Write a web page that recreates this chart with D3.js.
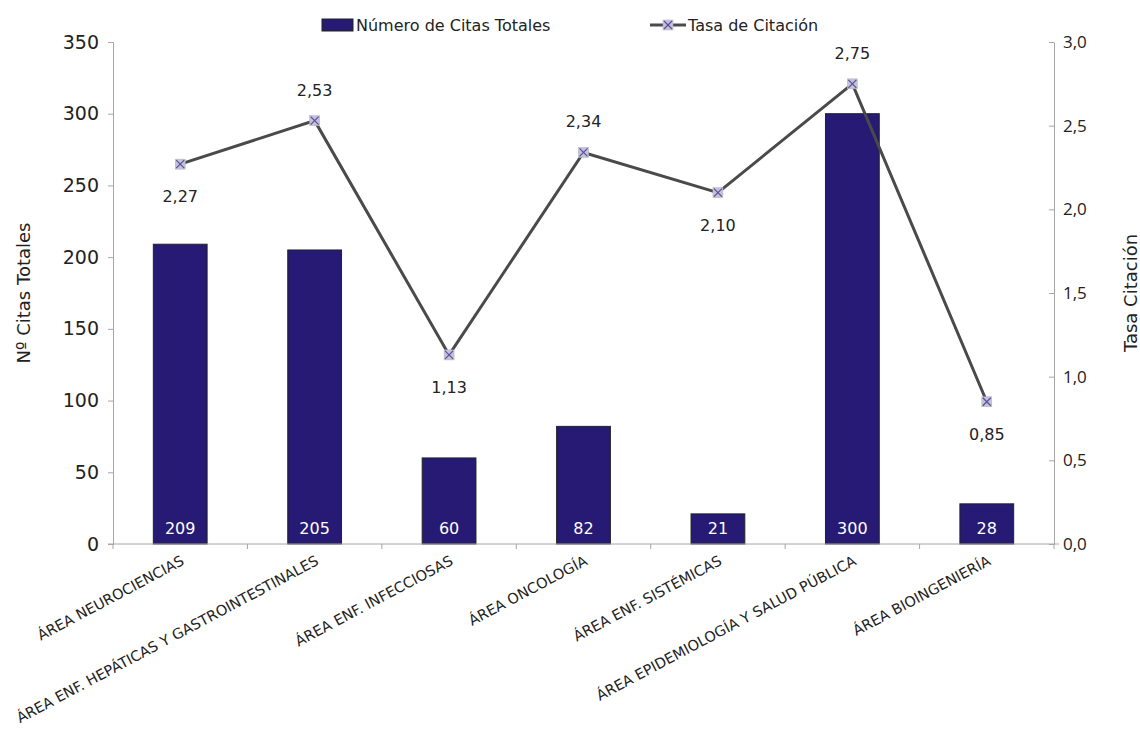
<!DOCTYPE html>
<html>
<head>
<meta charset="utf-8">
<script src="https://cdn.jsdelivr.net/npm/d3@7"></script>
<style>
  html, body { margin: 0; padding: 0; background: #fff; }
  svg { display: block; }
</style>
</head>
<body>
<svg id="chart" width="1140" height="733"></svg>
<script>
// Citation totals and citation rate by research area
const categories = [
  "ÁREA NEUROCIENCIAS",
  "ÁREA ENF. HEPÁTICAS Y GASTROINTESTINALES",
  "ÁREA ENF. INFECCIOSAS",
  "ÁREA ONCOLOGÍA",
  "ÁREA ENF. SISTÉMICAS",
  "ÁREA EPIDEMIOLOGÍA Y SALUD PÚBLICA",
  "ÁREA BIOINGENIERÍA"
];
const totalCitations = [209, 205, 60, 82, 21, 300, 28];
const citationRate = [2.27, 2.53, 1.13, 2.34, 2.10, 2.75, 0.85];
const rateLabelAbove = [false, true, false, true, false, true, false];
const leftTicks = [0, 50, 100, 150, 200, 250, 300, 350];
const rightTicks = [0, 0.5, 1.0, 1.5, 2.0, 2.5, 3.0];

const mainFont = "'DejaVu Sans', sans-serif";
const rightFont = "'Open Sans', sans-serif";
const fmtComma = (v, d) => v.toFixed(d).replace(".", ",");

const svg = d3.select("#chart");
const plot = { left: 113, right: 1054, top: 42, bottom: 544 };

const x = d3.scaleBand().domain(categories).range([plot.left, plot.right]).paddingInner(0).paddingOuter(0);
const yL = d3.scaleLinear().domain([0, 350]).range([plot.bottom, plot.top]);
const yR = d3.scaleLinear().domain([0, 3]).range([plot.bottom, plot.top]);
const barW = x.bandwidth() * 0.4;
const axisColor = "#a6a6a6";

// Bars
svg.append("g").selectAll("rect")
  .data(totalCitations)
  .join("rect")
  .attr("x", (d, i) => x(categories[i]) + x.bandwidth() / 2 - barW / 2)
  .attr("y", d => yL(d))
  .attr("width", barW)
  .attr("height", d => plot.bottom - yL(d))
  .attr("fill", "#261a74")
  .attr("stroke", "#222")
  .attr("stroke-width", 1);

// Bar value labels
svg.append("g").selectAll("text")
  .data(totalCitations)
  .join("text")
  .attr("x", (d, i) => x(categories[i]) + x.bandwidth() / 2)
  .attr("y", plot.bottom - 10)
  .attr("text-anchor", "middle")
  .attr("fill", "#fff")
  .attr("font-family", mainFont)
  .attr("font-size", 16)
  .text(d => d);

// Left axis
const gL = svg.append("g").attr("transform", `translate(${plot.left},0)`)
  .call(d3.axisLeft(yL).tickValues(leftTicks).tickSize(5).tickPadding(9).tickFormat(d3.format("d")));
gL.select(".domain").attr("stroke", axisColor);
gL.selectAll(".tick line").attr("stroke", axisColor);
gL.selectAll("text").attr("font-family", mainFont).attr("font-size", 19).attr("fill", "#222");

// Right axis
const gR = svg.append("g").attr("transform", `translate(${plot.right},0)`)
  .call(d3.axisRight(yR).tickValues(rightTicks).tickSize(0).tickPadding(9).tickFormat(d => fmtComma(d, 1)));
gR.select(".domain").attr("stroke", axisColor);
gR.selectAll(".tick line").attr("stroke", axisColor);
gR.selectAll(".tick").append("line").attr("x1", -5).attr("x2", 0).attr("stroke", axisColor);
gR.selectAll("text").attr("font-family", rightFont).attr("font-size", 17).attr("fill", "#222");

// Bottom axis with boundary ticks
svg.append("line").attr("x1", plot.left - 5).attr("x2", plot.right + 5)
  .attr("y1", plot.bottom).attr("y2", plot.bottom).attr("stroke", axisColor);
const bounds = categories.map(c => x(c)).concat([plot.right]);
svg.append("g").selectAll("line")
  .data(bounds)
  .join("line")
  .attr("x1", d => d).attr("x2", d => d)
  .attr("y1", plot.bottom).attr("y2", plot.bottom + 5)
  .attr("stroke", axisColor);

// Category labels, rotated
svg.append("g").selectAll("text")
  .data(categories)
  .join("text")
  .attr("transform", d => `translate(${x(d) + x.bandwidth() / 2 + 5},${plot.bottom + 20}) rotate(-28)`)
  .attr("text-anchor", "end")
  .attr("font-family", mainFont)
  .attr("font-size", 14.5)
  .attr("fill", "#222")
  .text(d => d);

// Axis titles
svg.append("text")
  .attr("transform", `translate(30,${(plot.top + plot.bottom) / 2}) rotate(-90)`)
  .attr("text-anchor", "middle")
  .attr("font-family", mainFont)
  .attr("font-size", 18)
  .attr("fill", "#222")
  .text("Nº Citas Totales");
svg.append("text")
  .attr("transform", `translate(1137,${(plot.top + plot.bottom) / 2}) rotate(-90)`)
  .attr("text-anchor", "middle")
  .attr("font-family", mainFont)
  .attr("font-size", 18)
  .attr("fill", "#222")
  .text("Tasa Citación");

// Rate line
const cx = i => x(categories[i]) + x.bandwidth() / 2;
const line = d3.line().x((d, i) => cx(i)).y(d => yR(d));
svg.append("path")
  .datum(citationRate)
  .attr("d", line)
  .attr("fill", "none")
  .attr("stroke", "#4a4a4a")
  .attr("stroke-width", 3);

function marker(g, px, py) {
  const s = 5;
  g.append("rect").attr("x", px - s).attr("y", py - s).attr("width", 2 * s).attr("height", 2 * s)
    .attr("fill", "#c3c3d3").attr("stroke", "#b0b0c0").attr("stroke-width", 0.5);
  g.append("path").attr("d", `M${px - s + 1},${py - s + 1}L${px + s - 1},${py + s - 1}M${px + s - 1},${py - s + 1}L${px - s + 1},${py + s - 1}`)
    .attr("stroke", "#5a4aa8").attr("stroke-width", 1.2);
}
const mg = svg.append("g");
citationRate.forEach((d, i) => marker(mg, cx(i), yR(d)));

// Rate value labels
svg.append("g").selectAll("text")
  .data(citationRate)
  .join("text")
  .attr("x", (d, i) => cx(i))
  .attr("y", (d, i) => rateLabelAbove[i] ? yR(d) - 25 : yR(d) + 38)
  .attr("text-anchor", "middle")
  .attr("font-family", mainFont)
  .attr("font-size", 16)
  .attr("fill", "#222")
  .text(d => fmtComma(d, 2));

// Legend
const lg = svg.append("g");
lg.append("rect").attr("x", 322).attr("y", 19).attr("width", 31).attr("height", 12)
  .attr("fill", "#261a74").attr("stroke", "#222");
lg.append("text").attr("x", 356).attr("y", 31).attr("font-family", mainFont).attr("font-size", 16).attr("fill", "#222")
  .text("Número de Citas Totales");
lg.append("line").attr("x1", 650).attr("x2", 686).attr("y1", 25).attr("y2", 25).attr("stroke", "#4a4a4a").attr("stroke-width", 3);
marker(lg, 668, 25);
lg.append("text").attr("x", 688).attr("y", 31).attr("font-family", mainFont).attr("font-size", 16).attr("fill", "#222")
  .text("Tasa de Citación");
</script>
</body>
</html>
